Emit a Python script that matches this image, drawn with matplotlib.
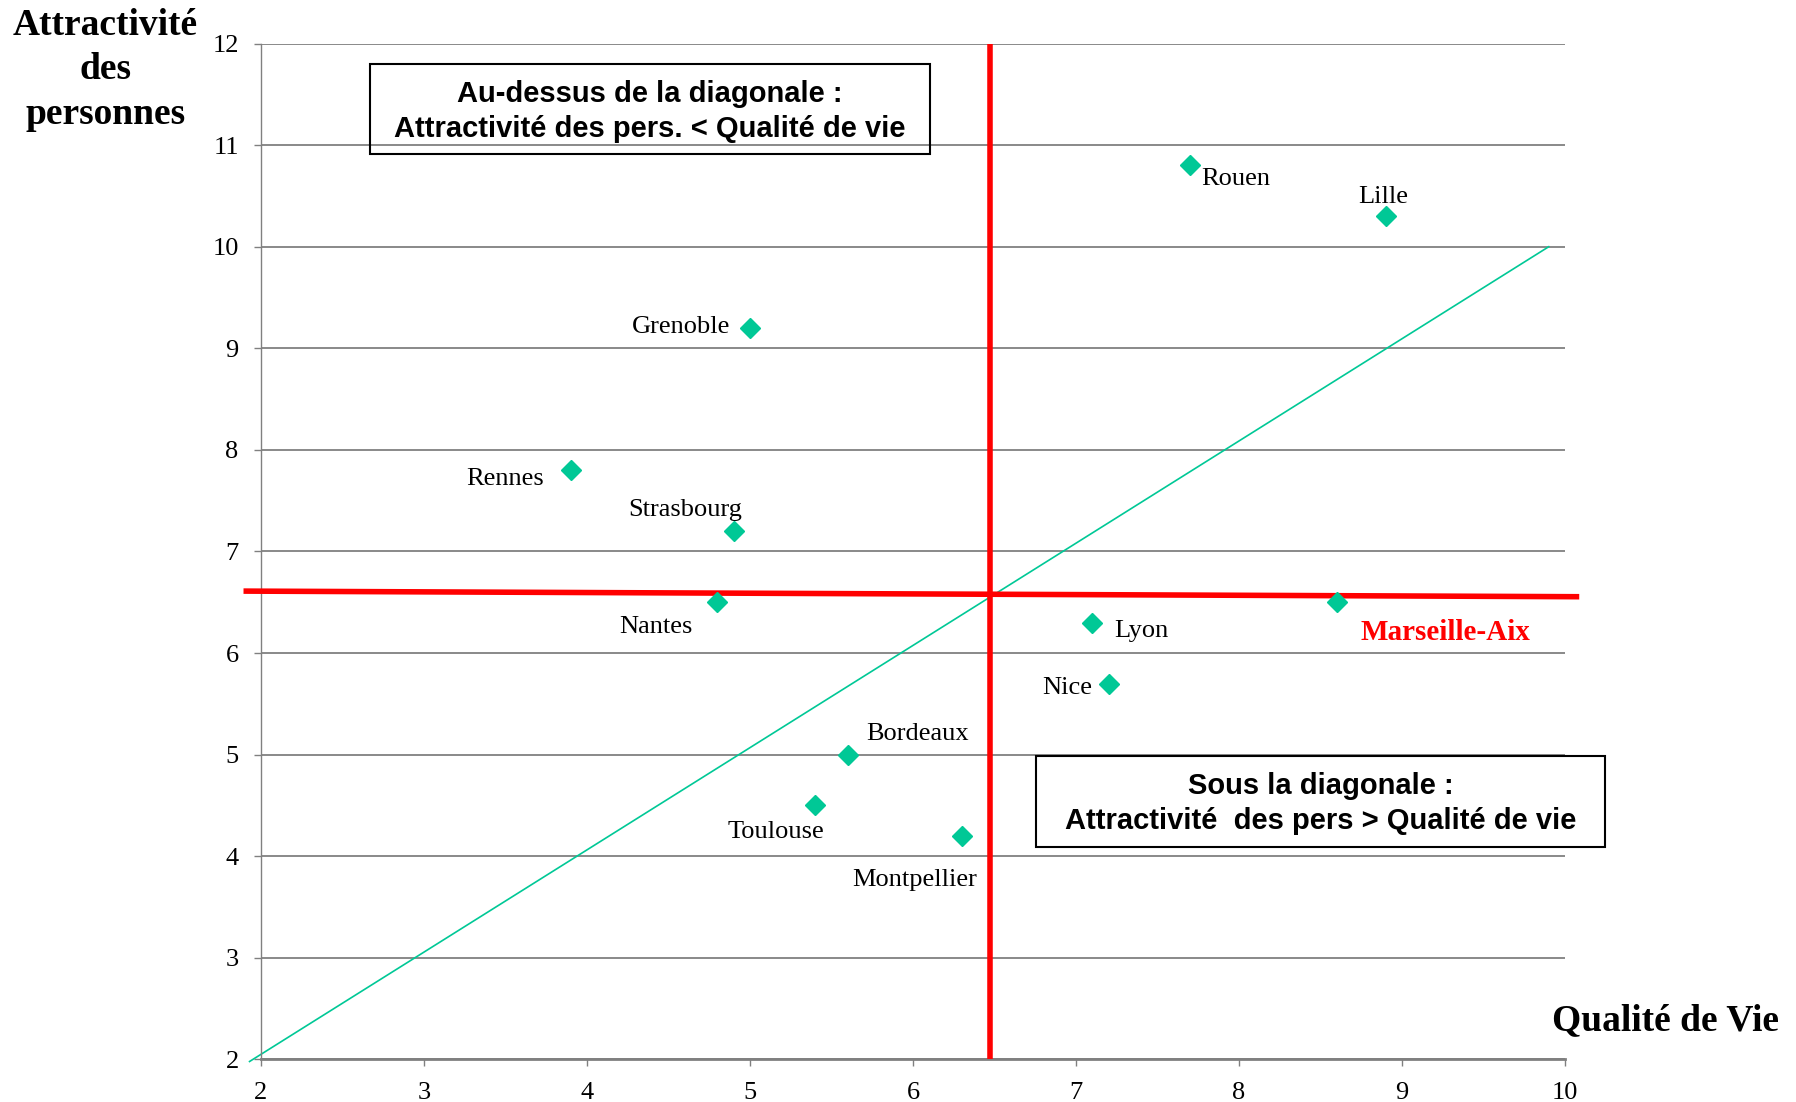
import matplotlib.pyplot as plt
from matplotlib.patches import Rectangle

# data
villes = ['Rouen', 'Lille', 'Grenoble', 'Rennes', 'Strasbourg', 'Nantes',
          'Lyon', 'Marseille-Aix', 'Nice', 'Bordeaux', 'Toulouse', 'Montpellier']
qualite = [7.7, 8.9, 5.0, 3.9, 4.9, 4.8, 7.1, 8.6, 7.2, 5.6, 5.4, 6.3]
attract = [10.8, 10.3, 9.2, 7.8, 7.2, 6.5, 6.3, 6.5, 5.7, 5.0, 4.5, 4.2]

# label placement (offset in points, alignment)
offsets = [(8, -10, 'left'), (-2, 14, 'center'), (-14, 1, 'right'), (-19, -6, 'right'),
           (-35, 15, 'center'), (-44, -18, 'center'), (16, -6, 'left'), (17, -22, 'left'),
           (-12, -3, 'right'), (13, 15, 'left'), (-28, -19, 'center'), (-34, -32, 'center')]

x_vert = 6.47
h_line_x = [1.91, 10.07]
h_line_y = [6.61, 6.555]
diag_x = [1.93, 9.9]
diag_y = [1.98, 10.0]

green = '#00C896'
red = '#FF0000'
serif = 'Liberation Serif'
sans = 'Liberation Sans'

fig = plt.figure(figsize=(17.96, 11.02), dpi=100)
ax = fig.add_axes([0.1453, 0.0386, 0.7261, 0.9219])
ax.set_xlim(2, 10)
ax.set_ylim(2, 12)
ax.set_xticks(range(2, 11))
ax.set_yticks(range(2, 13))

for s in ['top', 'right']:
    ax.spines[s].set_visible(False)
ax.spines['left'].set_color('#808080')
ax.spines['left'].set_linewidth(1.0)
ax.spines['bottom'].set_color('#808080')
ax.spines['bottom'].set_linewidth(2.0)
ax.tick_params(axis='x', length=5, width=1, color='#808080', pad=11, labelsize=19)
ax.tick_params(axis='y', length=5, width=1, color='#808080', pad=11, labelsize=19)
for lab in ax.get_xticklabels() + ax.get_yticklabels():
    lab.set_fontfamily(serif)
ax.yaxis.grid(True, color='#808080', linewidth=1.3)
ax.set_axisbelow(True)

ax.plot(diag_x, diag_y, color=green, linewidth=1.2, clip_on=False, zorder=2)
ax.plot([x_vert, x_vert], [2, 12], color=red, linewidth=4, zorder=3)
ax.plot(h_line_x, h_line_y, color=red, linewidth=4, clip_on=False, zorder=3)
ax.plot(qualite, attract, 'D', color=green, markersize=10, linestyle='none', zorder=4)

for v, x, y, (dx, dy, ha) in zip(villes, qualite, attract, offsets):
    if v == 'Marseille-Aix':
        ax.annotate(v, (x, y), xytext=(dx, dy), textcoords='offset points', ha=ha,
                    va='center', fontsize=21, fontfamily=serif, fontweight='bold', color=red)
    else:
        ax.annotate(v, (x, y), xytext=(dx, dy), textcoords='offset points', ha=ha,
                    va='center', fontsize=19, fontfamily=serif)

# annotation boxes
ax.add_patch(Rectangle((0.0835, 0.891), 0.4295, 0.089, transform=ax.transAxes,
                       fill=False, edgecolor='black', linewidth=1.5, clip_on=False, zorder=5))
ax.text(0.298, 0.933, 'Au-dessus de la diagonale :\nAttractivité des pers. < Qualité de vie',
        transform=ax.transAxes, ha='center', va='center', fontsize=21,
        fontfamily=sans, fontweight='bold', linespacing=1.35)
ax.add_patch(Rectangle((0.594, 0.209), 0.437, 0.090, transform=ax.transAxes,
                       fill=False, edgecolor='black', linewidth=1.5, clip_on=False, zorder=5))
ax.text(0.8125, 0.252, 'Sous la diagonale :\nAttractivité  des pers > Qualité de vie',
        transform=ax.transAxes, ha='center', va='center', fontsize=21,
        fontfamily=sans, fontweight='bold', linespacing=1.35)

fig.text(0.0587, 0.9365, 'Attractivité\ndes\npersonnes', ha='center', va='center',
         fontsize=27, fontfamily=serif, fontweight='bold', linespacing=1.36)
fig.text(0.9905, 0.0735, 'Qualité de Vie', ha='right', va='center',
         fontsize=27, fontfamily=serif, fontweight='bold')

fig.savefig('out.png', dpi=100)
